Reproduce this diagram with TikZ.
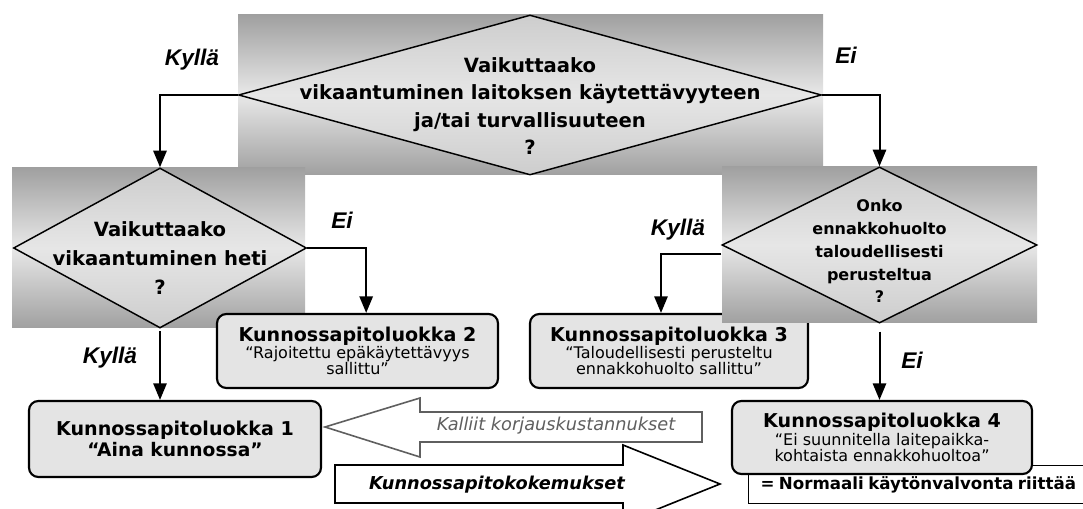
\documentclass[tikz,border=0pt]{standalone}
\usepackage{fontspec}
\setmainfont{DejaVu Sans}
\newfontfamily\labelfont{Liberation Sans}
\usepackage{tikz}
\usetikzlibrary{arrows.meta,calc,positioning,shapes.geometric}

\definecolor{bgdark}{RGB}{160,160,160}
\definecolor{bglight}{RGB}{232,232,232}
\definecolor{qdark}{RGB}{205,205,205}
\definecolor{qlight}{RGB}{230,230,230}
\definecolor{boxfill}{RGB}{228,228,228}
\definecolor{arrowgray}{RGB}{95,95,95}

\tikzset{
	backrect/.style={top color=bgdark, bottom color=bgdark, middle color=bglight},
	question/.style={diamond, draw, line width=1.1pt, inner sep=0pt,
		top color=qdark, bottom color=qdark, middle color=qlight},
	qtext/.style={align=center, font=\fontsize{14.7}{20.5}\selectfont\bfseries},
	qsmall/.style={align=center, font=\fontsize{12}{17.2}\selectfont\bfseries},
	classbox/.style={rectangle, rounded corners=7pt, draw, line width=1.6pt,
		fill=boxfill, align=center, inner sep=2pt},
	answer/.style={font=\labelfont\fontsize{17}{20}\selectfont\bfseries\itshape},
	flow/.style={line width=1.5pt, -{Triangle[length=12.5pt,width=10pt]}},
}
\newcommand{\boxtitle}[1]{{\fontsize{14.3}{19}\selectfont\bfseries #1}}
\newcommand{\boxsub}{\fontsize{12}{15}\selectfont}

\begin{document}
\begin{tikzpicture}[x=0.75pt,y=-0.75pt]
		\useasboundingbox (0,0) rectangle (1083,509);
		\clip (0,0) rectangle (1083,509);

		% questions
		\path[backrect] (238,15) rectangle (823,175);
		\node[question, minimum width=437.25pt, minimum height=120pt] (q0) at (530,95) {};
		\node[qtext] (q0t) at (530,106) {Vaikuttaako\\vikaantuminen laitoksen käytettävyyteen\\ja/tai turvallisuuteen\\?};

		\path[backrect] (12,168) rectangle (305,328);
		\node[question, minimum width=219.75pt, minimum height=120pt] (q1) at (160,248) {};
		\node[qtext, font=\fontsize{14.7}{21.5}\selectfont\bfseries] (q1t) at (160,258) {Vaikuttaako\\vikaantuminen heti\\?};

		% class 3 lies under the right question
		\node[classbox, minimum width=208.5pt, minimum height=55.5pt] (b3) at (669,351)
			{\boxtitle{Kunnossapitoluokka 3}\\ \boxsub “Taloudellisesti perusteltu\\ \boxsub ennakkohuolto sallittu”};

		\path[backrect] (722,167) rectangle (1037,323);
		\node[question, minimum width=236.25pt, minimum height=117pt] (q2) at (879.5,245) {};
		\node[qsmall] (q2t) at (879.5,251) {Onko\\ennakkohuolto\\taloudellisesti\\perusteltua\\?};

		% classes
		\node[classbox, minimum width=210.75pt, minimum height=55.5pt] (b2) at (357.5,351)
			{\boxtitle{Kunnossapitoluokka 2}\\ \boxsub “Rajoitettu epäkäytettävyys\\ \boxsub sallittu”};
		\node[classbox, minimum width=219pt, minimum height=57pt] (b1) at (175,439)
			{\boxtitle{Kunnossapitoluokka 1}\\[1pt] {\fontsize{14}{16}\selectfont\bfseries “Aina kunnossa”}};

		\node[rectangle, draw, line width=0.8pt, anchor=north west, minimum width=270pt,
			minimum height=28.5pt, text width=262pt, align=left, inner sep=0pt] (nb) at (748,465)
			{\hspace{5pt}\raisebox{-3pt}{\fontsize{12.5}{14}\selectfont\bfseries = Normaali käytönvalvonta riittää}};
		\node[classbox, minimum width=225pt, minimum height=54.75pt] (b4) at (882,437.5)
			{\boxtitle{Kunnossapitoluokka 4}\\ \boxsub “Ei suunnitella laitepaikka-\\ \boxsub kohtaista ennakkohuoltoa”};

		% block arrows
		\draw[arrowgray, line width=1.2pt, fill=white] (702,412) -- (420,412) -- (420,398) -- (325,427)
			-- (420,457) -- (420,442) -- (702,442) -- cycle;
		\node[arrowgray, font=\fontsize{13.3}{15}\selectfont\itshape] (kk) at (556,426) {Kalliit korjauskustannukset};
		\draw[line width=1.2pt, fill=white] (335,465) -- (623,465) -- (623,445) -- (720,484)
			-- (623,523) -- (623,503) -- (335,503) -- cycle;
		\node[font=\fontsize{13.3}{15}\selectfont\bfseries\itshape] (ko) at (497,485) {Kunnossapitokokemukset};

		% connectors
		\draw[flow] (q0.west) -| (q1.north);
		\draw[flow] (q0.east) -| (q2.north);
		\draw[flow] (q1.east) -| ([xshift=6.5pt]b2.north);
		\draw[flow] ([yshift=-6.5pt]q2.west) -| ([xshift=-6pt]b3.north);
		\draw[flow] ([yshift=-6pt]q2.south) -- (q2.south |- b4.north);
		\draw[flow] ([yshift=-2pt]q1.south) -- (q1.south |- b1.north);

		% answers
		\node[answer] (a1) at (192,60) {Kyllä};
		\node[answer] (a2) at (846,55) {Ei};
		\node[answer] (a3) at (342,220) {Ei};
		\node[answer] (a4) at (110,358) {Kyllä};
		\node[answer] (a5) at (678,230) {Kyllä};
		\node[answer] (a6) at (912,360) {Ei};
	\end{tikzpicture}
\end{document}
